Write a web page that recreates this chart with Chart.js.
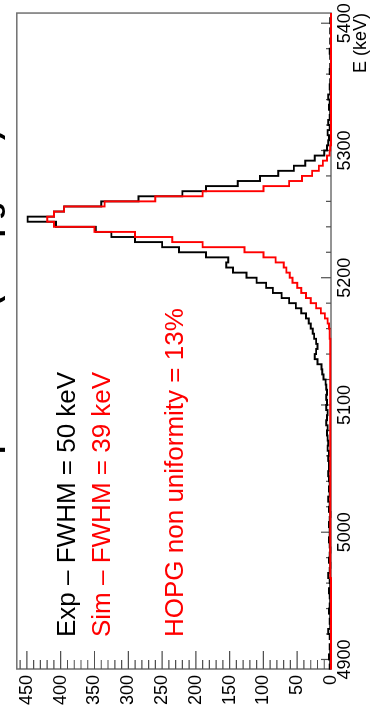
<!DOCTYPE html>
<html><head><meta charset="utf-8">
<script src="https://cdn.jsdelivr.net/npm/chart.js@4.4.1/dist/chart.umd.min.js"></script>
<style>
html,body{margin:0;padding:0;background:#fff;overflow:hidden;width:370px;height:724px;}
#wrap{position:absolute;left:0;top:0;width:724px;height:370px;transform-origin:0 0;transform:translateY(724px) rotate(-90deg);}
canvas{display:block;}
</style></head><body>
<div id="wrap"><canvas id="c" width="724" height="370"></canvas></div>
<script>
// Bin edges (keV)
const binEdges = [4892,4896,4900,4904,4908,4912,4916,4920,4924,4928,4932,4936,4940,4944,4948,4952,4956,4960,4964,4968,4972,4976,4980,4984,4988,4992,4996,
5000,5004,5008,5012,5016,5020,5024,5028,5032,5036,5040,5044,5048,5052,5056,5060,5064,5068,5072,5076,5080,5084,5088,5092,5096,
5100,5104,5108,5112,5116,5120,5124,5128,5132,5136,5140,5144,5148,5152,5156,5160,5164,5168,5172,5176,5180,5184,5188,5192,5196,
5200,5204,5208,5212,5216,5220,5224,5228,5232,5236,5240,5244,5248,5252,5256,5260,5264,5268,5272,5276,5280,5284,5288,5292,5296,
5300,5304,5308,5312,5316,5320,5324,5328,5332,5336,5340,5344,5348,5352,5356,5360,5364,5368,5372,5376,5380,5384,5388,5392,5396,
5400,5404,5408];
// Experimental counts per bin
const expCounts = [2,1,3,1,2,0,2,4,1,2,1,3,2,1,2,3,1,2,4,2,1,3,2,1,2,3,2,
2,3,2,1,3,2,4,2,3,2,3,4,3,
3,4,3,5,4,5,
6,5,7,6,5,7,6,
7,6,7,8,11,13,14,
20,24,22,20,22,25,27,30,33,37,
44,52,62,73,86,96,110,125,145,155,
152,185,225,250,290,325,348,407,449,410,
395,340,285,220,185,138,105,78,55,38,
24,10,6,4,3,5,2,4,2,1,
3,2,4,1,2,1,0,2,1,0,
1,2,0,1,0,1,0,1,0];
// Simulated counts per bin
const simCounts = [0,0,0,0,0,0,0,0,0,0,0,0,0,0,0,0,0,0,
1,1,1,1,1,1,1,1,1,1,1,1,1,1,1,1,1,1,1,1,1,1,1,1,1,1,1,1,1,1,1,1,1,1,1,1,1,1,1,1,1,1,1,1,1,1,
1,2,2,3,5,9,
15,22,30,37,44,50,57,61,66,70,
82,100,128,190,235,290,350,410,420,410,
395,335,260,190,100,62,43,28,18,12,
6,2,1,0,0,0,0,0,0,0,
0,0,0,0,0,0,0,0,0,0,
0,0,0,0,0,0,0,0,0];
const energyTicks = [4900,5000,5100,5200,5300,5400];
const energyMinorTicks = [4900,4920,4940,4960,4980,5000,5020,5040,5060,5080,5100,5120,5140,5160,5180,5200,5220,5240,5260,5280,5300,5320,5340,5360,5380,5400];
const countTicks = [0,50,100,150,200,250,300,350,400,450];
const countMinorTicks = [0,10,20,30,40,50,60,70,80,90,100,110,120,130,140,150,160,170,180,190,200,210,220,230,240,250,260,270,280,290,300,310,320,330,340,350,360,370,380,390,400,410,420,430,440,450,460];
const legendLines = [
  {text:'Exp \u2013 FWHM = 50 keV', color:'#000000'},
  {text:'Sim \u2013 FWHM = 39 keV', color:'#ff0000'},
  {text:'HOPG non uniformity = 13%', color:'#ff0000'}
];
const titleText = 'Exp. vs Sim. (330 \u00b5g/cm\u00b2)';
const xTitle = 'E (keV)';

function stepPoints(edges, counts){
  const pts = counts.map((c,i)=>({x:edges[i], y:c}));
  pts.push({x:edges[counts.length], y:counts[counts.length-1]});
  return pts;
}
const FONT = "'Liberation Sans', Arial, sans-serif";

const axisDecor = {
  id:'axisDecor',
  beforeDatasetsDraw(chart){
    const {ctx, chartArea:a, scales:{x,y}} = chart;
    ctx.save();
    ctx.strokeStyle='#707070'; ctx.lineWidth=1.5;
    ctx.strokeRect(a.left, a.top, a.right-a.left, a.bottom-a.top);
    ctx.strokeStyle='#505050'; ctx.lineWidth=1.2;
    ctx.beginPath();
    energyMinorTicks.forEach(v=>{
      const px=x.getPixelForValue(v); const len=energyTicks.includes(v)?10:5;
      ctx.moveTo(px,a.bottom); ctx.lineTo(px,a.bottom-len);
    });
    countMinorTicks.forEach(v=>{
      const py=y.getPixelForValue(v); const len=countTicks.includes(v)?18:9;
      ctx.moveTo(a.left,py); ctx.lineTo(a.left+len,py);
    });
    ctx.stroke();
    ctx.restore();
  },
  afterDraw(chart){
    const {ctx} = chart;
    ctx.save();
    ctx.font = "26px " + FONT;
    ctx.textAlign='left'; ctx.textBaseline='alphabetic';
    const baselines=[75,110,183];
    legendLines.forEach((l,i)=>{ ctx.fillStyle=l.color; ctx.fillText(l.text, 87, baselines[i]); });
    ctx.font = "bold 30px " + FONT;
    ctx.fillStyle='#000'; ctx.textAlign='right';
    ctx.fillText(titleText, 594, -1);
    ctx.restore();
  }
};

new Chart(document.getElementById('c'), {
  type:'line',
  data:{datasets:[
    {label:'Sim', data:stepPoints(binEdges, simCounts), borderColor:'#ff0000', borderWidth:1.9, stepped:true, pointRadius:0, fill:false, clip:4, order:0},
    {label:'Exp', data:stepPoints(binEdges, expCounts), borderColor:'#000000', borderWidth:1.9, stepped:true, pointRadius:0, fill:false, clip:4, order:1}
  ]},
  options:{
    responsive:false, animation:false, devicePixelRatio:1,
    layout:{padding:{top:9, right:13, left:0, bottom:0}},
    plugins:{legend:{display:false}, tooltip:{enabled:false}, title:{display:false}},
    scales:{
      x:{type:'linear', min:4892.5, max:5408,
        grid:{display:false, drawTicks:false}, border:{display:false},
        afterBuildTicks:s=>{ s.ticks = energyTicks.map(v=>({value:v})); },
        afterFit:s=>{ s.height = 39; },
        ticks:{padding:3, maxRotation:0, minRotation:0, autoSkip:false, color:'#000', font:{family:FONT, size:18}, callback:v=>String(v)},
        title:{display:true, text:xTitle, align:'end', color:'#000', font:{family:FONT, size:18, lineHeight:1.0}, padding:0}
      },
      y:{type:'linear', min:0, max:465,
        grid:{display:false, drawTicks:false}, border:{display:false},
        afterBuildTicks:s=>{ s.ticks = countTicks.map(v=>({value:v})); },
        afterFit:s=>{ s.width = 55; },
        ticks:{padding:6, autoSkip:false, color:'#000', font:{family:FONT, size:18}, callback:v=>String(v)}
      }
    }
  },
  plugins:[axisDecor]
});
</script>
</body></html>
